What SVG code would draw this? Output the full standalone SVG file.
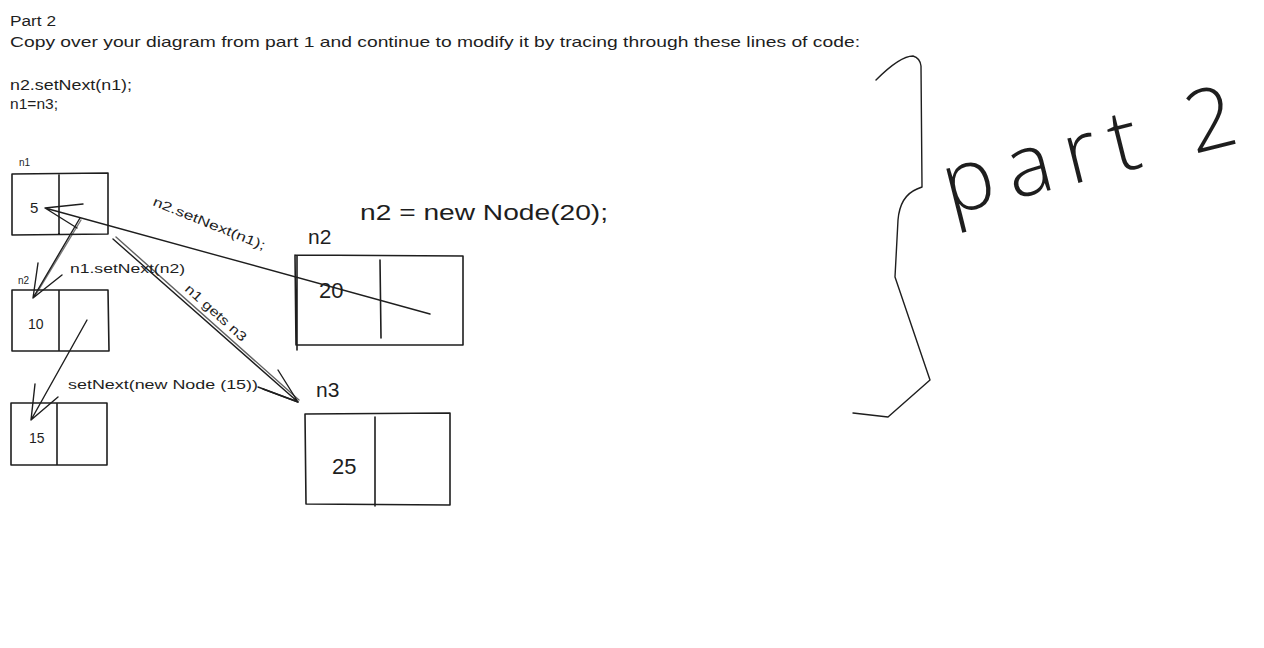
<svg xmlns="http://www.w3.org/2000/svg" width="1264" height="648" viewBox="0 0 1264 648">
<defs>
<style>
.t{font-family:"Liberation Sans","DejaVu Sans",sans-serif;fill:#1e1e1e}
.s{fill:none;stroke:#1e1e1e;stroke-width:1.4;stroke-linecap:round;stroke-linejoin:round}
.b{fill:none;stroke:#1e1e1e;stroke-width:1.6;stroke-linecap:round;stroke-linejoin:round}
.big{font-family:"Open Sans","Liberation Sans",sans-serif;font-weight:300;fill:#1e1e1e}
</style>
</defs>
<rect width="1264" height="648" fill="#ffffff"/>
<g id="header">
<text class="t" x="10" y="26" font-size="14" textLength="46" lengthAdjust="spacingAndGlyphs">Part 2</text>
<text class="t" x="10" y="47" font-size="15" textLength="850" lengthAdjust="spacingAndGlyphs">Copy over your diagram from part 1 and continue to modify it by tracing through these lines of code:</text>
<text class="t" x="10" y="90" font-size="14" textLength="122" lengthAdjust="spacingAndGlyphs">n2.setNext(n1);</text>
<text class="t" x="10" y="109" font-size="14" textLength="48" lengthAdjust="spacingAndGlyphs">n1=n3;</text>
</g>
<g id="node-n1">
<text class="t" x="19" y="166" font-size="10">n1</text>
<path class="b" d="M12 174 L108 173 M108 173 L108 234 M108 234 L12 235 M12 235 L12 174 M59 174 L59 234"/>
<text class="t" x="30" y="213" font-size="15">5</text>
</g>
<g id="node-10">
<text class="t" x="18" y="284" font-size="10">n2</text>
<path class="b" d="M12 290 L108 290 M108 290 L109 351 M109 351 L12 351 M12 351 L12 290 M59 291 L59 351"/>
<text class="t" x="28" y="329" font-size="14">10</text>
</g>
<g id="node-15">
<path class="b" d="M11 403 L107 403 M107 403 L107 465 M107 465 L11 465 M11 465 L11 403 M57 404 L57 465"/>
<text class="t" x="29" y="443" font-size="14">15</text>
</g>
<g id="node-n2">
<text class="t" x="360" y="220" font-size="22" textLength="248" lengthAdjust="spacingAndGlyphs">n2 = new Node(20);</text>
<text class="t" x="308" y="244" font-size="21">n2</text>
<path class="b" d="M295 255 L463 256 M463 256 L463 345 M463 345 L296 345 M296 345 L295 255 M297 256 L297 350 M380 260 L381 338"/>
<text class="t" x="319" y="298" font-size="22">20</text>
</g>
<g id="node-n3">
<text class="t" x="316" y="397" font-size="21">n3</text>
<path class="b" d="M305 414 L450 413 M450 413 L450 505 M450 505 L306 504 M306 504 L305 414 M375 417 L375 506"/>
<text class="t" x="332" y="474" font-size="22">25</text>
</g>
<g id="connectors">
<path class="s" d="M430 314 L45 208 M45 208 L83 204 M45 208 L77 228"/>
<path class="s" d="M80 218 L33 298 M33 298 L38 263 M33 298 L62 275"/>
<path class="s" d="M81 220 L35 296" stroke-opacity="0.6"/>
<path class="s" d="M87 320 L31 420 M31 420 L35 384 M31 420 L58 397"/>
<path class="s" d="M113 239 L298 402 M298 402 L278 370 M298 402 L263 389"/>
<path class="s" d="M116 237 L299 400" stroke-opacity="0.7"/>
<path class="s" d="M258 387 L298 402"/>
<text class="t" x="152" y="205" font-size="13" textLength="120" lengthAdjust="spacingAndGlyphs" transform="rotate(22 152 205)">n2.setNext(n1);</text>
<text class="t" x="70" y="273" font-size="13" textLength="115" lengthAdjust="spacingAndGlyphs">n1.setNext(n2)</text>
<text class="t" x="184" y="290" font-size="13" textLength="78" lengthAdjust="spacingAndGlyphs" transform="rotate(42 184 290)">n1 gets n3</text>
<text class="t" x="68" y="389" font-size="13" textLength="190" lengthAdjust="spacingAndGlyphs">setNext(new Node (15))</text>
</g>
<g id="part2-note">
<path class="s" d="M876 80 Q900 56 913 56 Q920 58 921 66 L922 187 L917 189 Q900 196 898 220 L895 277 L930 380 L888 417 L853 413"/>
<text class="big" x="950" y="215" font-size="86" letter-spacing="14" transform="rotate(-14 950 215)">part 2</text>
</g>
</svg>
